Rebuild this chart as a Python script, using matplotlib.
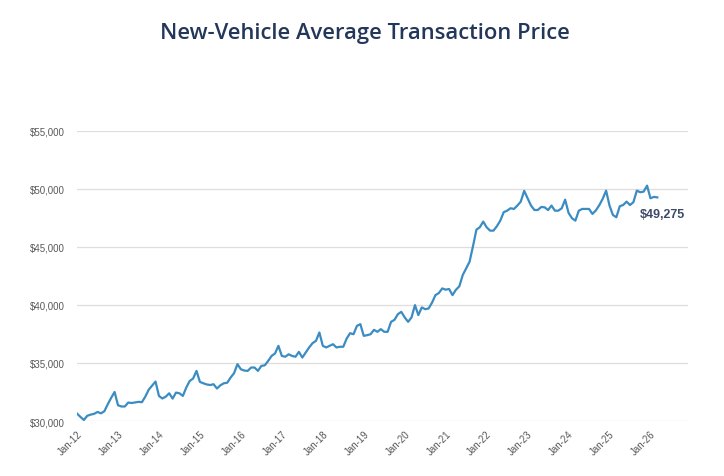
import numpy as np
import matplotlib
matplotlib.use("Agg")
import matplotlib.pyplot as plt

# monthly average transaction price, Jan 2012 onwards
price_2012 = [30640, 30350, 30090, 30450, 30550, 30620, 30780, 30660, 30840, 31440, 32000, 32500]
price_2013 = [31360, 31250, 31250, 31590, 31550, 31600, 31650, 31620, 32100, 32700, 33050, 33400]
price_2014 = [32160, 31940, 32100, 32390, 31930, 32450, 32390, 32160, 32880, 33450, 33660, 34320]
price_2015 = [33370, 33250, 33150, 33100, 33170, 32800, 33080, 33250, 33300, 33750, 34120, 34900]
price_2016 = [34460, 34350, 34320, 34610, 34610, 34320, 34750, 34800, 35180, 35610, 35820, 36480]
price_2017 = [35610, 35540, 35750, 35610, 35540, 35960, 35470, 35900, 36340, 36710, 36910, 37630]
price_2018 = [36480, 36340, 36480, 36620, 36340, 36400, 36400, 37110, 37570, 37480, 38200, 38350]
price_2019 = [37340, 37400, 37480, 37860, 37690, 37920, 37690, 37690, 38550, 38720, 39210, 39410]
price_2020 = [38930, 38550, 38930, 39990, 39130, 39790, 39640, 39700, 40200, 40850, 41030, 41430]
price_2021 = [41320, 41380, 40850, 41310, 41610, 42580, 43160, 43730, 45060, 46490, 46700, 47190]
price_2022 = [46700, 46410, 46410, 46790, 47270, 48000, 48130, 48340, 48280, 48570, 48910, 49840]
price_2023 = [49200, 48570, 48190, 48190, 48450, 48420, 48180, 48570, 48130, 48130, 48340, 49080]
price_2024 = [47940, 47480, 47270, 48130, 48280, 48280, 48280, 47850, 48150, 48600, 49150, 49860]
price_2025 = [48570, 47760, 47560, 48510, 48620, 48910, 48620, 48860, 49860, 49720, 49770, 50290]
price_2026 = [49200, 49320, 49275]

years = list(range(2012, 2027))
tick_labels = [f"Jan-{str(y)[2:]}" for y in years]
last_label = "$49,275"

prices = (price_2012 + price_2013 + price_2014 + price_2015 + price_2016 + price_2017
          + price_2018 + price_2019 + price_2020 + price_2021 + price_2022 + price_2023
          + price_2024 + price_2025 + price_2026)
months = np.arange(len(prices))

fig = plt.figure(figsize=(7.24, 4.77), dpi=100)
ax = fig.add_axes([0.1064, 0.1153, 0.8439, 0.6080])

ax.plot(months, prices, color="#3a8cc2", linewidth=1.6, solid_joinstyle="round")

ax.set_xlim(0, 179)
ax.set_ylim(30000, 55000)
ax.set_yticks(np.arange(30000, 55001, 5000))
ax.yaxis.set_major_formatter(matplotlib.ticker.FuncFormatter(lambda v, p: f"${v:,.0f}"))
ax.set_xticks(np.arange(0, len(prices), 12))
ax.set_xticklabels(tick_labels, rotation=45, ha="right", va="top", rotation_mode="anchor")

ax.grid(axis="y", color="#dedede", linewidth=0.9)
ax.set_axisbelow(True)
for s in ax.spines.values():
    s.set_visible(False)
ax.tick_params(axis="both", length=0, labelsize=7, labelcolor="#595959")
ax.tick_params(axis="y", pad=9)
ax.tick_params(axis="x", pad=5)
for lab in ax.get_xticklabels() + ax.get_yticklabels():
    lab.set_fontfamily("Liberation Sans")

ax.annotate(last_label, xy=(months[-1], prices[-1]), xytext=(4, -12),
            textcoords="offset points", ha="center", va="center",
            fontsize=9, fontweight="bold", color="#3d4a68", family="Liberation Sans")

fig.text(0.504, 0.93, "New-Vehicle Average Transaction Price", ha="center", va="center",
         fontsize=15.8, color="#23375a", family="Open Sans", fontweight="semibold")

fig.savefig("out.png", dpi=100, facecolor="white")
